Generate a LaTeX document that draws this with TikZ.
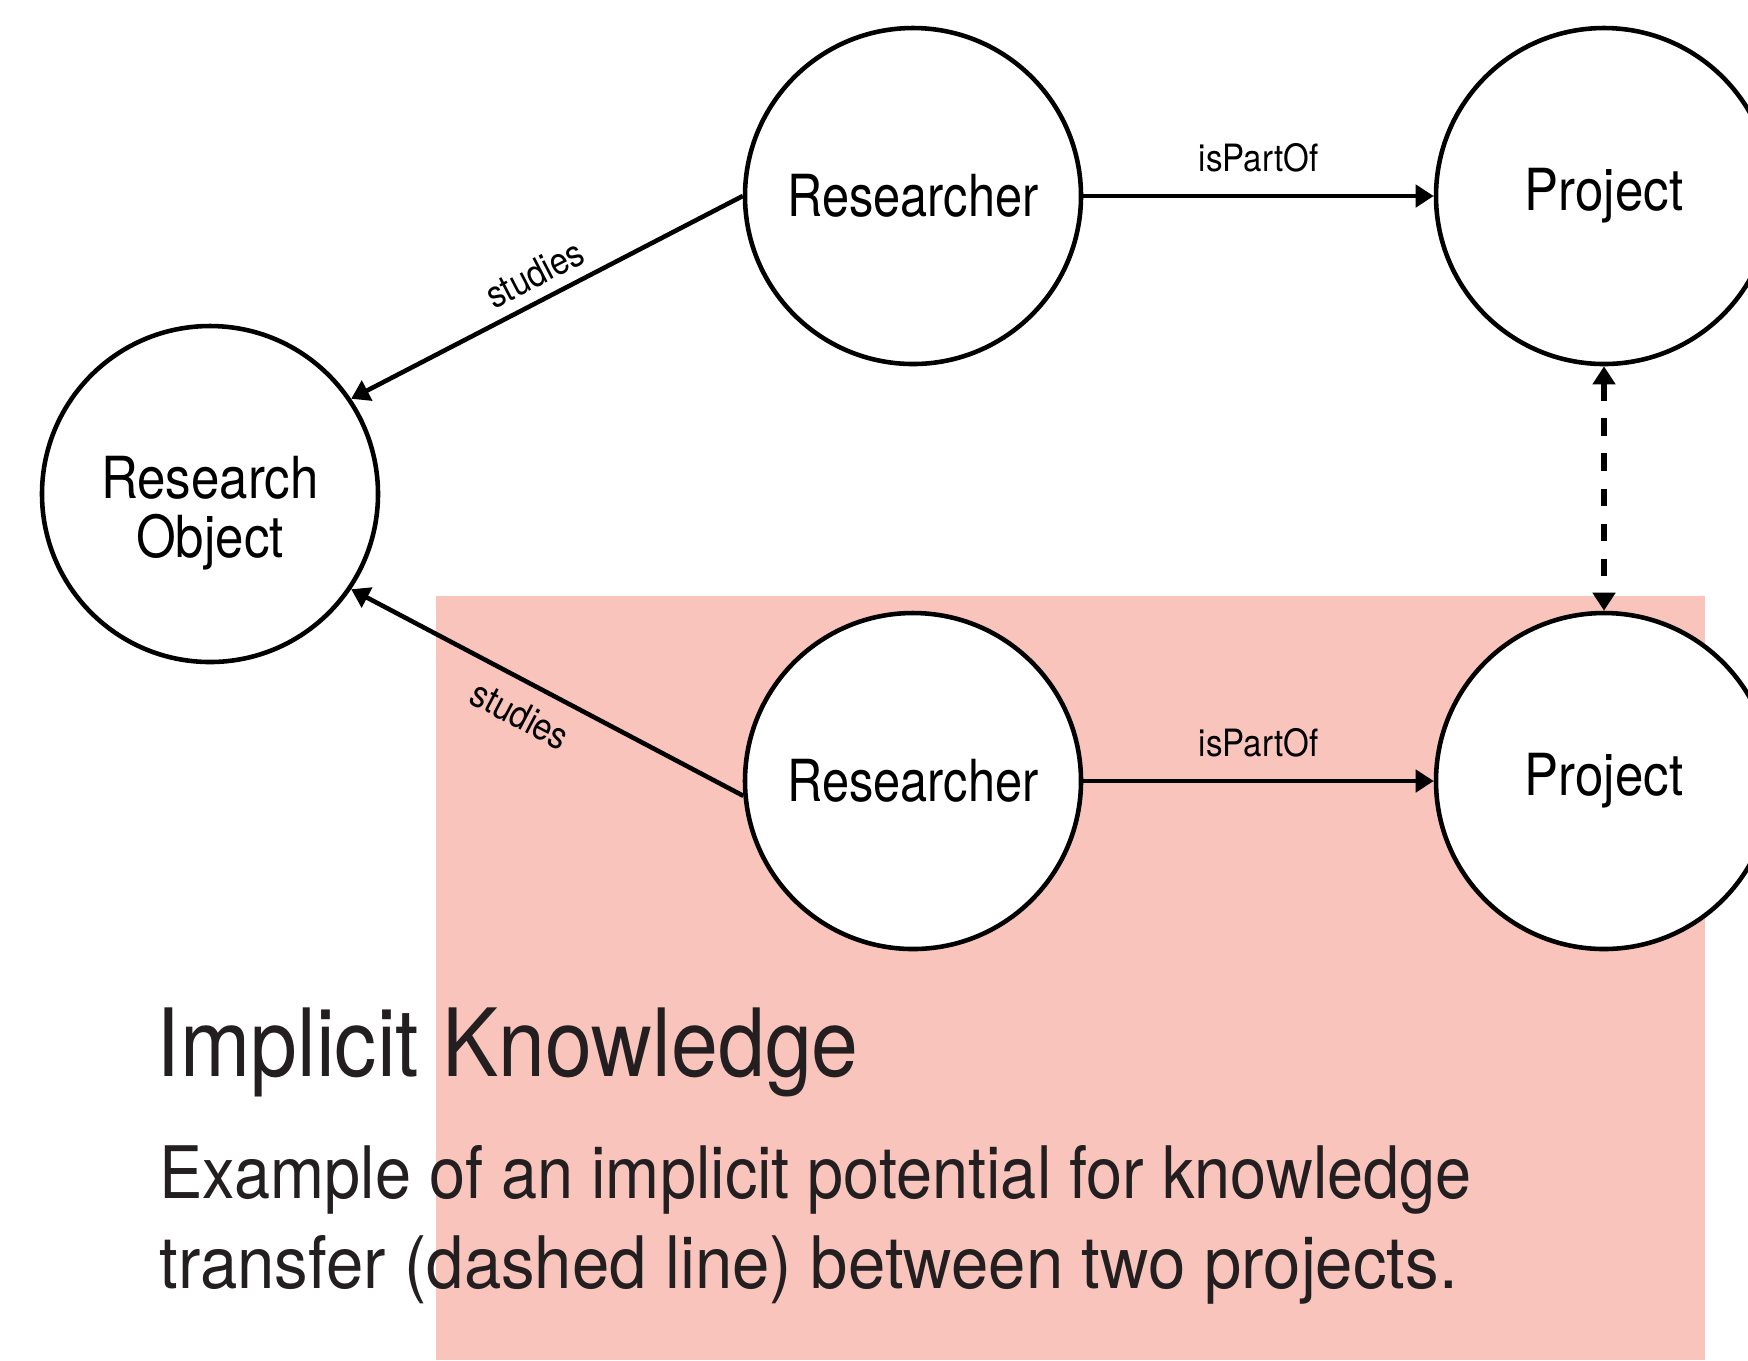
\documentclass[tikz,border=0pt]{standalone}
\usepackage{graphicx}
\usepackage{fontspec}
\setmainfont{TeX Gyre Heros}[FakeStretch=0.88]
\usetikzlibrary{arrows.meta}
\definecolor{blush}{RGB}{249,196,188}
\definecolor{ink}{RGB}{35,31,32}

\begin{document}
\begin{tikzpicture}[x=0.1mm, y=-0.1mm,
  entity/.style={circle, draw, line width=1.3pt, fill=white, minimum size=33.6mm,
    inner sep=0pt, font=\fontsize{16.5}{17}\selectfont, align=center},
  rel/.style={line width=1.3pt, -{Triangle[length=1.8mm, width=2.2mm]}},
  lbl/.style={font=\fontsize{10.7}{12}\selectfont, sloped, inner sep=3pt},
  heading/.style={anchor=base west, text=ink, inner sep=0pt}]

\useasboundingbox (0,0) rectangle (1748,1360);

% highlighted region
\fill[blush] (436,596) rectangle (1705,1360);

% entities
\node[entity, label={[font=\fontsize{16.5}{16.8}\selectfont, align=center, yshift=-1.9mm]center:Research\\Object}] (ro) at (210,494) {};
\node[entity] (r1) at (913,196) {\resizebox{25.1mm}{\height}{Researcher}};
\node[entity] (p1) at (1604,196) {Project};
\node[entity] (r2) at (913,781) {\resizebox{25.1mm}{\height}{Researcher}};
\node[entity] (p2) at (1604,781) {Project};

% relations
\draw[rel] (r1.east) -- node[lbl, above, inner sep=6pt] {isPartOf} (p1.west);
\draw[rel] (r2.east) -- node[lbl, above, inner sep=6pt] {isPartOf} (p2.west);
\draw[rel] (r1.west) -- node[lbl, above] {studies} (ro.34);
\draw[rel] (r2.185) -- node[lbl, below, pos=0.53, inner sep=4.5pt] {studies} (ro.-34);

% implicit link between the projects
\draw[line width=1.5pt, dash pattern=on 5pt off 5pt, {Triangle[length=1.8mm, width=2.2mm]}-{Triangle[length=1.8mm, width=2.2mm]}]
  (p1.south) -- (p2.north);

% caption
\node[heading, font=\fontsize{26.8}{30}\selectfont] (title) at (156,1076) {\resizebox{70.2mm}{\height}{Implicit Knowledge}};
\node[heading, font=\fontsize{20.6}{24}\selectfont] (line1) at (159,1198) {\resizebox{131.2mm}{\height}{Example of an implicit potential for knowledge}};
\node[heading, font=\fontsize{20.6}{24}\selectfont] (line2) at (159,1288) {\resizebox{129.8mm}{\height}{transfer (dashed line) between two projects.}};
\end{tikzpicture}
\end{document}
